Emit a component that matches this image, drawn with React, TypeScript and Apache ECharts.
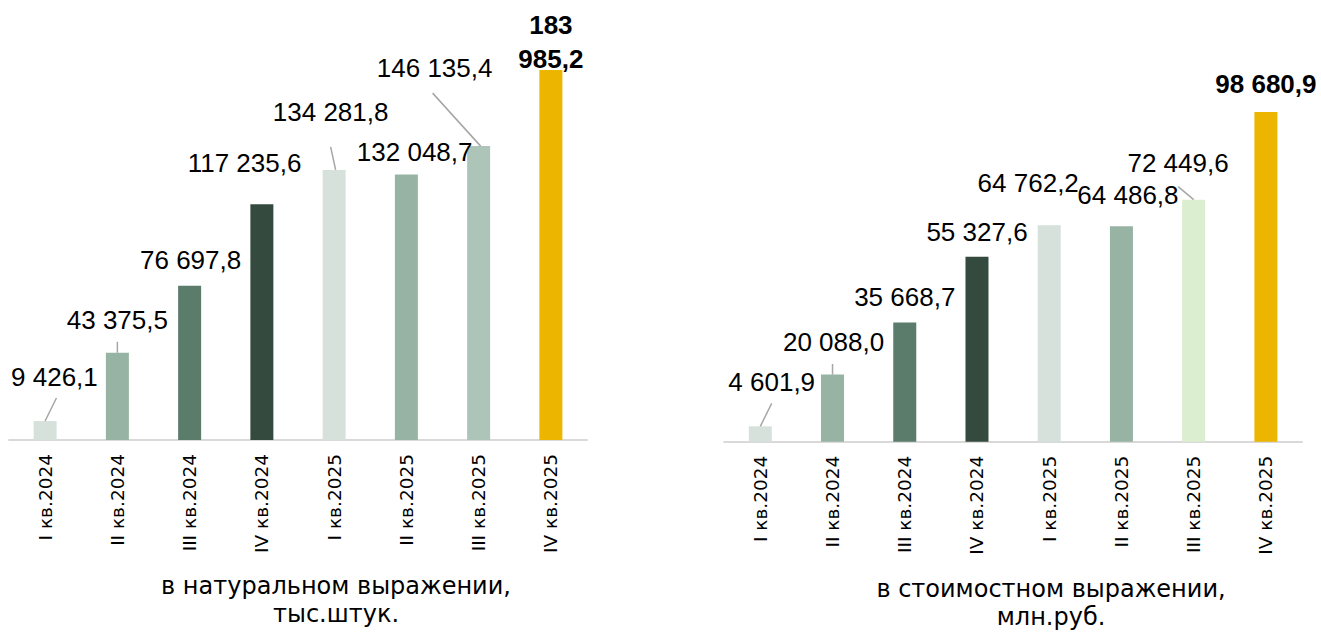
import React, { useEffect, useRef } from 'react';
import * as echarts from 'echarts';

// ---- data ----
const categories = ['I кв.2024', 'II кв.2024', 'III кв.2024', 'IV кв.2024', 'I кв.2025', 'II кв.2025', 'III кв.2025', 'IV кв.2025'];
const volumeValues = [9426.1, 43375.5, 76697.8, 117235.6, 134281.8, 132048.7, 146135.4, 183985.2];
const moneyValues = [4601.9, 20088.0, 35668.7, 55327.6, 64762.2, 64486.8, 72449.6, 98680.9];
const volumeTitle = 'в натуральном выражении,\nтыс.штук.';
const moneyTitle = 'в стоимостном выражении,\nмлн.руб.';

// ---- styles / layout ----
const volumeColors = ['#d6e1dc', '#96b3a3', '#5b7c6a', '#354a3e', '#d6e1dc', '#96b3a3', '#adc5b9', '#ecb500'];
const moneyColors = ['#d6e1dc', '#96b3a3', '#5b7c6a', '#354a3e', '#d6e1dc', '#96b3a3', '#dbeecf', '#ecb500'];
const highlightIndex = 7;
const volumeLabelOffsets = [[9.3, -28.5], [0, -17.3], [1, -10.3], [-17.3, -25.4], [-3.5, -42.5], [8.3, -7], [-44, -62.6], [0, 5.3]];
const moneyLabelOffsets = [[11.4, -29.1], [1, -17.4], [0, -10.3], [0, -9.6], [-21, -26.5], [6.5, -15.7], [-15.6, -21.4], [0, -11]];
const volumeLeaders: (number[] | null)[] = [[11.3, -23, 0, 0], [0, -11, 0, 0], null, null, [-3.5, -23, 1.5, 0], null, [-46, -53, 2, 0], null];
const moneyLeaders: (number[] | null)[] = [[11.4, -23, 0, 0], [0, -10.6, 0, 0], null, null, null, null, [-15.5, -13, 0, 0], null];

const LABEL_FONT = "'Liberation Sans', Arial, sans-serif";
const AXIS_FONT = "'DejaVu Sans', sans-serif";

function fmt(v: number, wrap: boolean): string {
  const [i, d] = v.toFixed(1).split('.');
  const intPart = i.replace(/\B(?=(\d{3})+(?!\d))/g, ' ');
  return (wrap ? intPart.replace(' ', '\n') : intPart) + ',' + d;
}

function barSeries(values: number[], colors: string[], offsets: number[][], axisIndex: number, wrapHighlight: boolean) {
  return {
    type: 'bar',
    xAxisIndex: axisIndex,
    yAxisIndex: axisIndex,
    barWidth: 23,
    data: values.map((v, i) => ({
      value: v,
      itemStyle: { color: colors[i] },
      label:
        i === highlightIndex
          ? {
              offset: offsets[i],
              fontFamily: LABEL_FONT,
              fontWeight: 'bold',
              fontSize: 26,
              lineHeight: 33.5,
            }
          : { offset: offsets[i] },
    })),
    label: {
      show: true,
      position: 'top',
      distance: 0,
      color: '#000',
      fontFamily: LABEL_FONT,
      fontSize: 26,
      lineHeight: 31,
      formatter: (p: any) => fmt(p.value, wrapHighlight && p.dataIndex === highlightIndex),
    },
  };
}

function leaderSeries(values: number[], leaders: (number[] | null)[], axisIndex: number) {
  const data: number[][] = [];
  values.forEach((v, i) => {
    if (leaders[i]) data.push([i, v]);
  });
  return {
    type: 'custom',
    xAxisIndex: axisIndex,
    yAxisIndex: axisIndex,
    silent: true,
    z: 5,
    encode: { x: 0, y: 1 },
    data,
    renderItem: (_params: any, api: any) => {
      const i = api.value(0);
      const p = api.coord([i, api.value(1)]);
      const l = leaders[i] as number[];
      return {
        type: 'line',
        shape: { x1: p[0] + l[0], y1: p[1] + l[1], x2: p[0] + l[2], y2: p[1] + l[3] },
        style: { stroke: '#a6a6a6', lineWidth: 1.5 },
      };
    },
  };
}

function xAxis(gridIndex: number) {
  return {
    type: 'category',
    gridIndex,
    data: categories,
    boundaryGap: true,
    axisTick: { show: false },
    axisLine: { lineStyle: { color: '#d9d9d9', width: 2 } },
    axisLabel: {
      rotate: 90,
      margin: 14,
      color: '#000',
      fontFamily: AXIS_FONT,
      fontSize: 18.5,
      interval: 0,
    },
  };
}

function yAxis(gridIndex: number, max: number) {
  return {
    type: 'value',
    gridIndex,
    min: 0,
    max,
    show: false,
    splitLine: { show: false },
  };
}

export default function App() {
  const ref = useRef<HTMLDivElement>(null);
  useEffect(() => {
    if (!ref.current) return;
    const chart = echarts.init(ref.current, null, { renderer: 'svg' });
    const titleStyle = {
      fontFamily: AXIS_FONT,
      fontWeight: 'normal',
      fontSize: 24,
      lineHeight: 28,
      color: '#000',
    };
    chart.setOption({
      animation: false,
      backgroundColor: '#fff',
      title: [
        { text: volumeTitle, left: 331, top: 567, textAlign: 'center', textStyle: titleStyle },
        { text: moneyTitle, left: 1046, top: 570, textAlign: 'center', textStyle: titleStyle },
      ],
      grid: [
        { left: 9, top: 37.8, width: 578, height: 402.2, outerBoundsMode: 'none' },
        { left: 724.2, top: 107.6, width: 577.8, height: 334.1, outerBoundsMode: 'none' },
      ],
      xAxis: [xAxis(0), xAxis(1)],
      yAxis: [yAxis(0, 200000), yAxis(1, 100000)],
      series: [
        barSeries(volumeValues, volumeColors, volumeLabelOffsets, 0, true),
        barSeries(moneyValues, moneyColors, moneyLabelOffsets, 1, false),
        leaderSeries(volumeValues, volumeLeaders, 0),
        leaderSeries(moneyValues, moneyLeaders, 1),
      ],
    });
    return () => chart.dispose();
  }, []);
  return <div ref={ref} style={{ position: 'absolute', left: 0, top: 0, width: 1321, height: 632 }} />;
}
